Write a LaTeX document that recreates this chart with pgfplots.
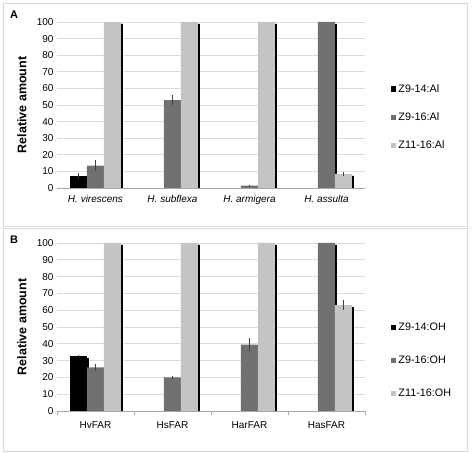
\documentclass[border=0pt]{standalone}
\usepackage{fontspec}
\setmainfont{Liberation Sans}
\usepackage{pgfplots}
\pgfplotsset{compat=1.18}
\usepackage{pgfplotstable}
\usetikzlibrary{shadows}
\definecolor{cK}{HTML}{000000}
\definecolor{cD}{HTML}{707070}
\definecolor{cL}{HTML}{C4C4C4}
\definecolor{frame}{HTML}{D9D9D9}
\definecolor{gridc}{HTML}{DCDCDC}

\pgfplotstableread{
x a ae b be c ce
0 7.5 1.5 13.5 3.5 100 0
1 0 0 53 3 100 0
2 0 0 1.5 0.3 100 0
3 0 0 100 0 8.5 1
}\tabA
\pgfplotstableread{
x a ae b be c ce
0 33 0.5 26 2 100 0
1 0 0 20 0.8 100 0
2 0 0 39.5 4 100 0
3 0 0 100 0 63 3
}\tabB

\newcommand{\legsq}[1]{\pgfsetfillcolor{#1}\pgfpathrectangle{\pgfpoint{0pt}{-2.6pt}}{\pgfpoint{5.2pt}{5.2pt}}\pgfusepath{fill}}

\pgfplotsset{
  panel/.style={
    scale only axis, width=308pt,
    ybar=0pt, bar width=17pt,
    xmin=-0.5, xmax=3.5, ymin=0, ymax=100,
    ytick={0,10,...,100}, xtick={0,1,2,3},
    axis x line*=bottom, axis y line*=left,
    y axis line style={draw=none},
    x axis line style={draw=gray!70},
    major tick length=0pt,
    ymajorgrids, grid style={gridc, line width=0.6pt},
    tick label style={font=\fontsize{10}{12}\selectfont},
    /pgf/number format/assume math mode=true,
    every axis y label/.style={at={(axis description cs:-0.114,0.5)}, rotate=90, anchor=center},
    ylabel={\fontsize{12.5}{15}\selectfont\bfseries Relative amount},
    legend style={draw=none, fill=none, font=\fontsize{10.8}{12}\selectfont, cells={anchor=west}, row sep=15pt},
    unbounded coords=discard,
    every axis plot/.append style={draw=none, drop shadow={shadow xshift=2pt, shadow yshift=-2pt, fill=black, opacity=1},
      restrict y to domain=0.01:1000,
      error bars/y dir=both, error bars/y explicit, error bars/error mark=none, error bars/error bar style={black!75, line width=0.5pt}},
  }
}

\begin{document}
\begin{tikzpicture}
\path (0pt,0pt) rectangle (472pt,453pt);
\draw[frame, line width=0.8pt] (3pt,227pt) rectangle (467pt,450pt);
\draw[frame, line width=0.8pt] (3pt,2pt) rectangle (467pt,225pt);
\node[font=\fontsize{11}{13}\selectfont\bfseries] at (14pt,438pt) {A};
\node[font=\fontsize{11}{13}\selectfont\bfseries] at (14pt,213pt) {B};

\begin{axis}[panel, at={(57pt,265pt)}, anchor=south west, height=166pt,
  xticklabels={\textit{H. virescens},\textit{H. subflexa},\textit{H. armigera},\textit{H. assulta}},
  xticklabel style={yshift=-4pt},
  legend style={at={(1.075,0.65)}, anchor=north west}]
\addplot[fill=cK, legend image code/.code={\legsq{cK}}] table[x=x, y=a, y error=ae] {\tabA};
\addplot[fill=cD, legend image code/.code={\legsq{cD}}] table[x=x, y=b, y error=be] {\tabA};
\addplot[fill=cL, legend image code/.code={\legsq{cL}}] table[x=x, y=c, y error=ce] {\tabA};
\legend{Z9-14:Al, Z9-16:Al, Z11-16:Al}
\end{axis}

\begin{axis}[panel, at={(57pt,42pt)}, anchor=south west, height=168pt,
  xticklabels={HvFAR, HsFAR, HarFAR, HasFAR},
  xticklabel style={yshift=-7pt},
  extra x ticks={-0.5,0.5,1.5,2.5,3.5}, extra x tick labels={},
  extra x tick style={major tick length=4pt, tick style={draw=gray!70}, tick align=outside, grid=none},
  legend style={at={(1.075,0.55)}, anchor=north west, row sep=20pt}]
\addplot[fill=cK, legend image code/.code={\legsq{cK}}] table[x=x, y=a, y error=ae] {\tabB};
\addplot[fill=cD, legend image code/.code={\legsq{cD}}] table[x=x, y=b, y error=be] {\tabB};
\addplot[fill=cL, legend image code/.code={\legsq{cL}}] table[x=x, y=c, y error=ce] {\tabB};
\legend{Z9-14:OH, Z9-16:OH, Z11-16:OH}
\end{axis}
\end{tikzpicture}
\end{document}
